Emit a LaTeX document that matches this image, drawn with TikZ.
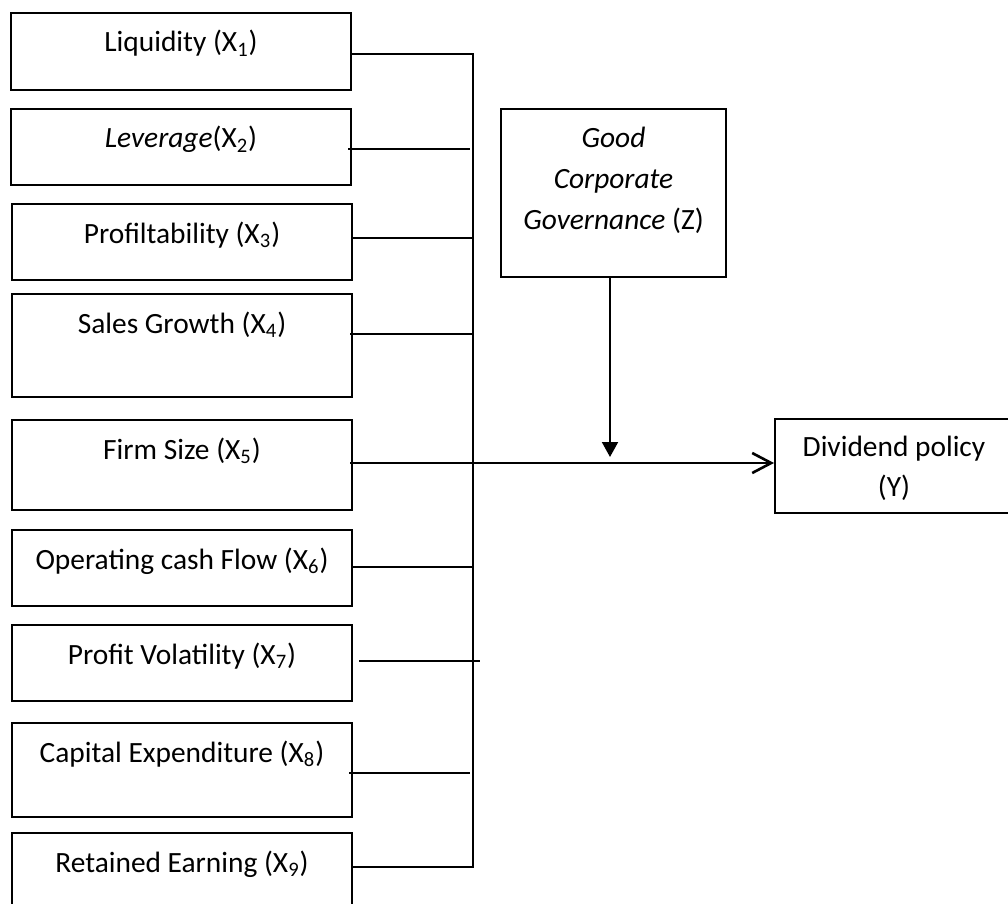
\documentclass[tikz,border=0pt]{standalone}
\usepackage{fontspec}
\setmainfont{Carlito}
\usetikzlibrary{arrows.meta}

\begin{document}
\begin{tikzpicture}[x=0.5pt,y=-0.5pt,
  font=\fontsize{14.7pt}{20.5pt}\selectfont,
  varbox/.style={draw,line width=1pt,inner sep=0pt,minimum width=170pt,
    text height=19.5pt,text depth=#1,anchor=north west},
  wire/.style={line width=1pt}]

\useasboundingbox (0,0) rectangle (1008,904);

% independent variables
\node [varbox=19pt] (x1) at (10,12) {Liquidity (X\textsubscript{1})};
\node [varbox=18.5pt] (x2) at (10,108) {\textit{Leverage}(X\textsubscript{2})};
\node [varbox=18.5pt] (x3) at (11,203) {Profiltability (X\textsubscript{3})};
\node [varbox=32pt] (x4) at (11,293) {Sales Growth (X\textsubscript{4})};
\node [varbox=25.5pt] (x5) at (11,419) {Firm Size (X\textsubscript{5})};
\node [varbox=18.5pt] (x6) at (11,529) {Operating cash Flow (X\textsubscript{6})};
\node [varbox=18.5pt] (x7) at (11,624) {Profit Volatility (X\textsubscript{7})};
\node [varbox=27.5pt] (x8) at (11,722) {Capital Expenditure (X\textsubscript{8})};
\node [varbox=20pt] (x9) at (11,832) {Retained Earning (X\textsubscript{9})};

% moderator and dependent variable
\node [draw,line width=1pt,inner sep=0pt,anchor=north west,text width=112.5pt,
  align=flush center,text height=19.5pt,text depth=64.5pt] (gcg) at (500,108)
  {\textit{Good}\\\textit{Corporate}\\\textit{Governance} (Z)};
\node [draw,line width=1pt,inner sep=0pt,anchor=north west,text width=119pt,
  align=flush center,text height=18.5pt,text depth=28.5pt] (div) at (774,418)
  {Dividend policy\\(Y)};

\coordinate (btop) at (473,54);
\coordinate (bbot) at (473,867);
\coordinate (b2) at (470,149);
\coordinate (b3) at (474,238);
\coordinate (b4) at (472,334);
\coordinate (b6) at (473,567);
\coordinate (b7) at (480,661);
\coordinate (b8) at (470,773);
\coordinate (join) at (610,463);

\draw [wire] (x1.east |- btop) -- (btop) -- (bbot) -- (x9.east |- bbot);
\draw [wire] ([xshift=-2pt]x2.east |- b2) -- (b2);
\draw [wire] (x3.east |- b3) -- (b3);
\draw [wire] ([xshift=-1.5pt]x4.east |- b4) -- (b4);
\draw [wire] (x6.east |- b6) -- (b6);
\draw [wire] ([xshift=3pt]x7.east |- b7) -- (b7);
\draw [wire] ([xshift=-2pt]x8.east |- b8) -- (b8);

\draw [line width=1.3pt,-{Straight Barb[length=9.5pt,width=10pt]}]
  ([xshift=-1.5pt]x5.east |- join) -- (div.west |- join);
\draw [wire,-{Triangle[length=7.5pt,width=8pt]}] (gcg.south -| join) -- ([yshift=3pt]join);

\end{tikzpicture}
\end{document}
